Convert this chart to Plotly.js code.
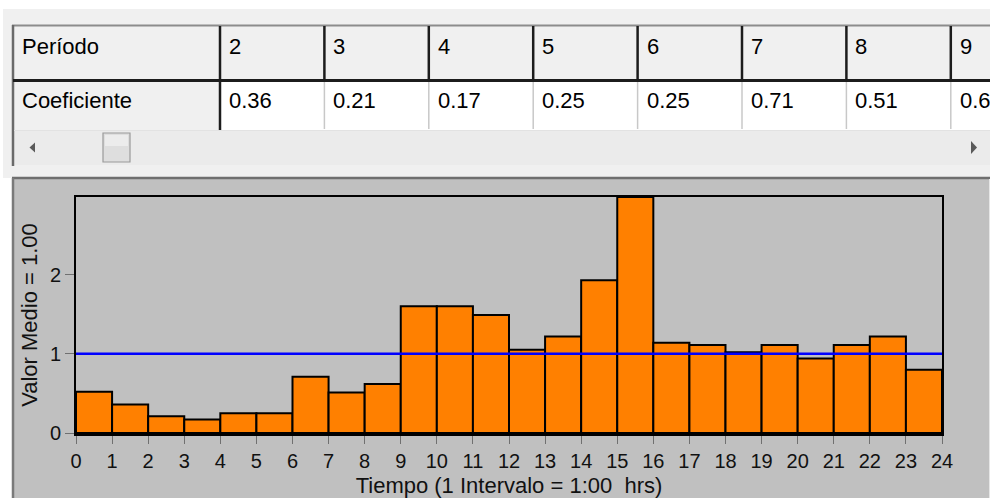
<!DOCTYPE html>
<html>
<head>
<meta charset="utf-8">
<script src="https://cdn.plot.ly/plotly-3.0.1.min.js"></script>
<style>
  html, body { margin: 0; padding: 0; background: #ffffff; }
  #wrap { position: absolute; left: 0; top: 0; width: 990px; height: 498px; overflow: hidden; }
  #chart { width: 996px; height: 498px; }
</style>
</head>
<body>
<div id="wrap"><div id="chart"></div></div>
<script>
// ---- data ----
var hourStarts = [0, 1, 2, 3, 4, 5, 6, 7, 8, 9, 10, 11, 12, 13, 14, 15, 16, 17, 18, 19, 20, 21, 22, 23];
var values = [0.52, 0.36, 0.21, 0.17, 0.25, 0.25, 0.71, 0.51, 0.62, 1.60, 1.60, 1.49,
              1.05, 1.22, 1.93, 2.98, 1.14, 1.11, 1.02, 1.11, 0.94, 1.11, 1.22, 0.80];
var meanValue = 1.00;
var xTicks = [0, 1, 2, 3, 4, 5, 6, 7, 8, 9, 10, 11, 12, 13, 14, 15, 16, 17, 18, 19, 20, 21, 22, 23, 24];
var yTicks = [0, 1, 2];
var tablePeriods = [2, 3, 4, 5, 6, 7, 8, 9];
var rowLabels = ['Período', 'Coeficiente'];
var xTitle = 'Tiempo (1 Intervalo = 1:00 \u00a0hrs)';
var yTitle = 'Valor Medio = 1.00';

// ---- geometry helpers (pixel -> paper) ----
var W = 996, H = 498;
function X(px) { return px / W; }
function Y(py) { return 1 - py / H; }
var FONT = 'Liberation Sans, Arial, sans-serif';
var TXT = '#111111';

var shapes = [];
var annotations = [];
function rect(x0, y0, x1, y1, fill, lineColor, lineWidth) {
  shapes.push({type: 'rect', xref: 'paper', yref: 'paper', layer: 'below',
    x0: X(x0), x1: X(x1), y0: Y(y1), y1: Y(y0),
    fillcolor: fill, line: {width: lineWidth || 0, color: lineColor || 'rgba(0,0,0,0)'}});
}
function line(x0, y0, x1, y1, color, width) {
  shapes.push({type: 'line', xref: 'paper', yref: 'paper', layer: 'below',
    x0: X(x0), x1: X(x1), y0: Y(y0), y1: Y(y1), line: {color: color, width: width}});
}
function poly(pts, fill) {
  var d = pts.map(function (p, i) { return (i ? 'L' : 'M') + X(p[0]) + ',' + Y(p[1]); }).join(' ') + ' Z';
  shapes.push({type: 'path', xref: 'paper', yref: 'paper', layer: 'below', path: d,
    fillcolor: fill, line: {width: 0}});
}
function text(t, x, y) {
  annotations.push({text: t, xref: 'paper', yref: 'paper', x: X(x), y: Y(y),
    xanchor: 'left', yanchor: 'middle', showarrow: false,
    font: {family: FONT, size: 22, color: '#000000'}});
}

// ---- form background / table ----
rect(3, 9, 996, 178, '#f0f0f0');
var firstCol = 220, colW = 104.4, tableRight = 1100;
rect(14, 26, tableRight, 80, '#f0f0f0');
rect(14, 81, firstCol, 130, '#f0f0f0');
rect(firstCol, 81, tableRight, 130, '#ffffff');
rect(14, 130, tableRight, 165, '#ebebeb');
line(12, 25.5, tableRight, 25.5, '#8c8c8c', 2);
line(13, 25, 13, 166, '#6a6a6a', 2.5);
line(13, 80.5, tableRight, 80.5, '#1c1c1c', 3);
tablePeriods.forEach(function (p, i) {
  var sx = firstCol + i * colW;
  line(sx, 26, sx, 80, '#1c1c1c', 2.5);
  if (i === 0) line(sx, 80, sx, 130, '#1c1c1c', 2.5);
  else line(sx, 82, sx, 129, '#c8c8c8', 1.5);
  text(String(p), sx + 7, 46);
  text(values[p - 1].toFixed(2), sx + 7, 101);
});
text(rowLabels[0], 20, 46);
text(rowLabels[1], 20, 101);
line(14, 130.5, tableRight, 130.5, '#e2e2e2', 1);
// scrollbar arrows and thumb
poly([[35, 142.5], [29.5, 147.5], [35, 152.5]], '#5a5a5a');
poly([[971, 141], [977, 147.5], [971, 154]], '#5a5a5a');
rect(103, 133, 130, 162, '#dedede', '#9a9a9a', 1.2);
rect(105, 135, 128, 146, '#ececec');

// ---- chart panel ----
rect(13, 178, 990, 500, '#c0c0c0');
line(12, 178, 990, 178, '#6e6e6e', 2.5);
line(13, 178, 13, 498, '#7a7a7a', 2.5);
line(989.5, 179, 989.5, 498, '#e6e6e6', 1);

// ---- traces ----
var bars = {
  type: 'bar', x: hourStarts, y: values, width: 1, offset: 0,
  marker: {color: '#ff8000', line: {color: '#000000', width: 2}},
  hoverinfo: 'skip'
};
var meanLine = {
  type: 'scatter', mode: 'lines', x: [xTicks[0], xTicks[xTicks.length - 1]], y: [meanValue, meanValue],
  line: {color: '#0000ff', width: 2.5}, hoverinfo: 'skip'
};

var layout = {
  width: W, height: H,
  margin: {l: 0, r: 0, t: 0, b: 0},
  paper_bgcolor: '#ffffff',
  plot_bgcolor: '#c0c0c0',
  showlegend: false,
  bargap: 0,
  font: {family: FONT, color: TXT},
  xaxis: {
    domain: [X(76), X(942)], range: [0, 24], fixedrange: true,
    tickvals: xTicks, ticktext: xTicks.map(String),
    ticks: 'outside', ticklen: 8, tickcolor: '#707070', tickwidth: 1,
    showgrid: false, zeroline: false,
    showline: true, linecolor: '#000000', linewidth: 2.5, mirror: true,
    tickfont: {family: FONT, size: 20, color: TXT},
    title: {text: xTitle, font: {family: FONT, size: 22, color: TXT}, standoff: 10}
  },
  yaxis: {
    domain: [Y(433), Y(197)], range: [0, Math.max.apply(null, values)], fixedrange: true,
    tickvals: yTicks, ticktext: yTicks.map(String),
    ticks: 'outside', ticklen: 9, tickcolor: '#707070', tickwidth: 1,
    showgrid: false, zeroline: false,
    showline: true, linecolor: '#000000', linewidth: 2, mirror: true,
    tickfont: {family: FONT, size: 20, color: TXT},
    title: {text: yTitle, font: {family: FONT, size: 22, color: TXT}, standoff: 6}
  },
  shapes: shapes,
  annotations: annotations
};

Plotly.newPlot('chart', [bars, meanLine], layout, {displayModeBar: false, staticPlot: true});
</script>
</body>
</html>
